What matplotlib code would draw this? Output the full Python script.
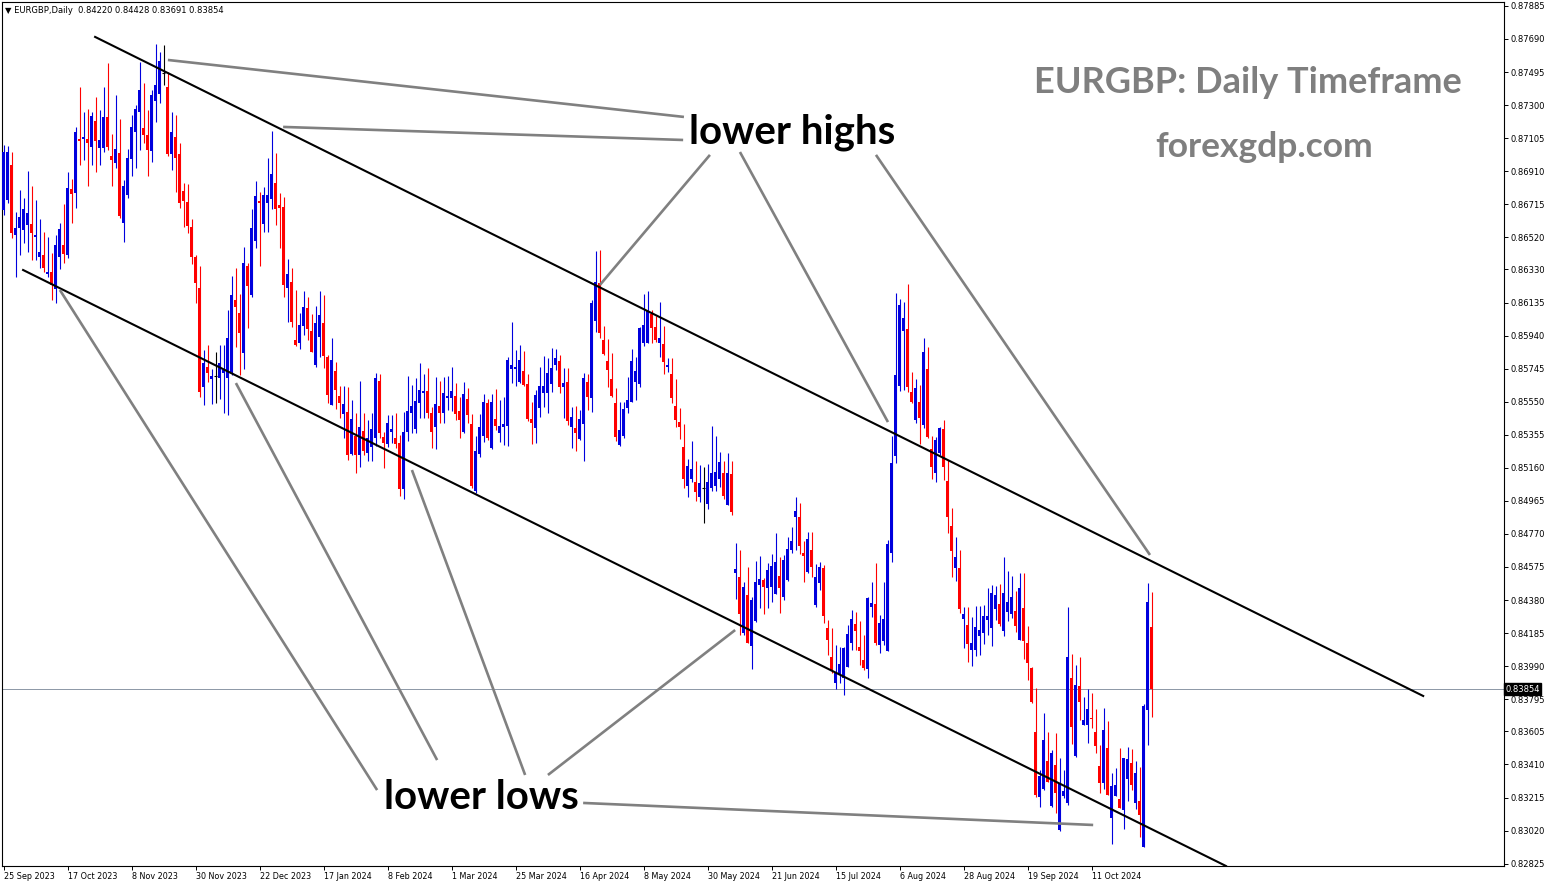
import numpy as np
import matplotlib.pyplot as plt
from matplotlib.transforms import blended_transform_factory

# EURGBP daily candles, 25 Sep 2023 .. 1 Nov 2024
opens = [
    0.86681, 0.86740, 0.86946, 0.86533, 0.86575, 0.86563, 0.86592, 0.86598, 0.86522, 0.86404,
    0.86415, 0.86303, 0.86315, 0.86215, 0.86404, 0.86474, 0.86415, 0.86805, 0.86781, 0.87100,
    0.87100, 0.87100, 0.87053, 0.87206, 0.87047, 0.87047, 0.87230, 0.87000, 0.86958, 0.87017,
    0.86604, 0.86769, 0.86982, 0.87141, 0.87259, 0.87165, 0.87123, 0.87029, 0.87324, 0.87365,
    0.87489, 0.87407, 0.87011, 0.87112, 0.87011, 0.86793, 0.86728, 0.86581, 0.86404, 0.86221,
    0.85637, 0.85755, 0.85684, 0.85702, 0.85690, 0.85719, 0.85690, 0.85725, 0.86150, 0.86073,
    0.85837, 0.86351, 0.86179, 0.86498, 0.86734, 0.86598, 0.86722, 0.86746, 0.86840, 0.86710,
    0.86699, 0.86221, 0.86256, 0.85914, 0.85896, 0.85997, 0.86103, 0.85967, 0.85766, 0.85932,
    0.86014, 0.85814, 0.85530, 0.85731, 0.85584, 0.85477, 0.85489, 0.85241, 0.85348, 0.85235,
    0.85377, 0.85247, 0.85283, 0.85336, 0.85672, 0.85342, 0.85300, 0.85371, 0.85336, 0.85306,
    0.85035, 0.85371, 0.85483, 0.85389, 0.85542, 0.85601, 0.85613, 0.85483, 0.85401, 0.85525,
    0.85483, 0.85572, 0.85572, 0.85584, 0.85495, 0.85371, 0.85566, 0.85418, 0.85023, 0.85241,
    0.85348, 0.85542, 0.85277, 0.85448, 0.85365, 0.85401, 0.85407, 0.85743, 0.85743, 0.85666,
    0.85731, 0.85654, 0.85448, 0.85395, 0.85513, 0.85601, 0.85601, 0.85654, 0.85766, 0.85790,
    0.85637, 0.85666, 0.85401, 0.85395, 0.85330, 0.85418, 0.85666, 0.85572, 0.86026, 0.86250,
    0.85914, 0.85790, 0.85684, 0.85542, 0.85294, 0.85348, 0.85513, 0.85548, 0.85666, 0.85654,
    0.85896, 0.85896, 0.86067, 0.85991, 0.85896, 0.85890, 0.85755, 0.85713, 0.85525, 0.85430,
    0.85283, 0.85053, 0.85094, 0.85076, 0.84988, 0.85041, 0.84946, 0.85041, 0.85053, 0.85094,
    0.85129, 0.84940, 0.85123, 0.84539, 0.84516, 0.84185, 0.84409, 0.84109, 0.84256, 0.84468,
    0.84498, 0.84451, 0.84457, 0.84415, 0.84522, 0.84398, 0.84498, 0.84675, 0.84870, 0.84870,
    0.84657, 0.84545, 0.84675, 0.84350, 0.84480, 0.84569, 0.84215, 0.84044, 0.83890, 0.83943,
    0.83920, 0.83985, 0.84126, 0.84238, 0.84103, 0.84026, 0.83973, 0.84339, 0.84356, 0.84114,
    0.84138, 0.84079, 0.84657, 0.85230, 0.85643, 0.85967, 0.85979, 0.85607, 0.85442, 0.85548,
    0.85412, 0.85743, 0.85271, 0.85129, 0.85247, 0.85389, 0.85082, 0.84817, 0.84569, 0.84569,
    0.84268, 0.84232, 0.84085, 0.84085, 0.84168, 0.84185, 0.84262, 0.84215, 0.84327, 0.84356,
    0.84197, 0.84309, 0.84297, 0.84315, 0.84144, 0.84333, 0.84126, 0.83979, 0.83601, 0.83218,
    0.83265, 0.83430, 0.83165, 0.83406, 0.83023, 0.83224, 0.83182, 0.83920, 0.83460, 0.83873,
    0.83642, 0.83642, 0.83684, 0.83601, 0.83401, 0.83300, 0.83507, 0.83094, 0.83224, 0.83206,
    0.83141, 0.83324, 0.83418, 0.83182, 0.83194, 0.82923, 0.83731, 0.84220,
]
highs = [
    0.87064, 0.87059, 0.87023, 0.86669, 0.86799, 0.86752, 0.86911, 0.86823, 0.86740, 0.86628,
    0.86551, 0.86522, 0.86427, 0.86533, 0.86604, 0.86716, 0.86905, 0.86864, 0.87171, 0.87407,
    0.87259, 0.87277, 0.87259, 0.87348, 0.87271, 0.87407, 0.87548, 0.87129, 0.87359, 0.87218,
    0.86858, 0.87041, 0.87241, 0.87300, 0.87554, 0.87430, 0.87271, 0.87389, 0.87660, 0.87613,
    0.87654, 0.87495, 0.87259, 0.87241, 0.87076, 0.86840, 0.86834, 0.86628, 0.86415, 0.86351,
    0.85855, 0.85884, 0.85743, 0.85843, 0.85884, 0.85884, 0.86091, 0.86292, 0.86339, 0.86185,
    0.86463, 0.86368, 0.86687, 0.86852, 0.86787, 0.86817, 0.86988, 0.87147, 0.87017, 0.86781,
    0.86758, 0.86392, 0.86339, 0.86209, 0.86073, 0.86203, 0.86168, 0.86067, 0.86115, 0.86203,
    0.86179, 0.85825, 0.85926, 0.85784, 0.85643, 0.85643, 0.85637, 0.85560, 0.85483, 0.85672,
    0.85483, 0.85442, 0.85483, 0.85719, 0.85713, 0.85371, 0.85471, 0.85471, 0.85483, 0.85353,
    0.85489, 0.85702, 0.85648, 0.85690, 0.85778, 0.85713, 0.85749, 0.85519, 0.85696, 0.85672,
    0.85696, 0.85702, 0.85755, 0.85660, 0.85578, 0.85666, 0.85631, 0.85477, 0.85348, 0.85477,
    0.85595, 0.85566, 0.85595, 0.85625, 0.85560, 0.85578, 0.85814, 0.86020, 0.85855, 0.85884,
    0.85849, 0.85713, 0.85548, 0.85619, 0.85755, 0.85820, 0.85808, 0.85867, 0.85861, 0.85825,
    0.85749, 0.85749, 0.85519, 0.85525, 0.85501, 0.85719, 0.85713, 0.86150, 0.86439, 0.86445,
    0.85997, 0.85920, 0.85837, 0.85631, 0.85548, 0.85548, 0.85696, 0.85861, 0.85814, 0.85991,
    0.86185, 0.86203, 0.86091, 0.86056, 0.86138, 0.85997, 0.85808, 0.85808, 0.85684, 0.85513,
    0.85418, 0.85212, 0.85318, 0.85200, 0.85176, 0.85165, 0.85182, 0.85407, 0.85348, 0.85253,
    0.85200, 0.85247, 0.85200, 0.84716, 0.84675, 0.84486, 0.84575, 0.84398, 0.84610, 0.84640,
    0.84510, 0.84598, 0.84651, 0.84775, 0.84634, 0.84645, 0.84752, 0.84811, 0.84988, 0.84952,
    0.84728, 0.84781, 0.84781, 0.84592, 0.84604, 0.84586, 0.84262, 0.84215, 0.84114, 0.84103,
    0.84103, 0.84232, 0.84321, 0.84309, 0.84256, 0.84173, 0.84398, 0.84486, 0.84598, 0.84291,
    0.84486, 0.84734, 0.85348, 0.86191, 0.86156, 0.86138, 0.86244, 0.85725, 0.85684, 0.85648,
    0.85926, 0.85873, 0.85348, 0.85342, 0.85401, 0.85442, 0.85206, 0.84923, 0.84752, 0.84675,
    0.84339, 0.84339, 0.84280, 0.84345, 0.84345, 0.84350, 0.84451, 0.84468, 0.84463, 0.84474,
    0.84634, 0.84551, 0.84522, 0.84433, 0.84539, 0.84539, 0.84227, 0.83985, 0.83861, 0.83377,
    0.83713, 0.83601, 0.83495, 0.83595, 0.83448, 0.83377, 0.84339, 0.84061, 0.83996, 0.84044,
    0.83808, 0.83855, 0.83831, 0.83737, 0.83524, 0.83743, 0.83666, 0.83359, 0.83389, 0.83507,
    0.83448, 0.83513, 0.83501, 0.83430, 0.83395, 0.83766, 0.84480, 0.84428,
]
lows = [
    0.86651, 0.86722, 0.86516, 0.86286, 0.86415, 0.86486, 0.86433, 0.86386, 0.86386, 0.86339,
    0.86315, 0.86286, 0.86150, 0.86132, 0.86333, 0.86368, 0.86398, 0.86604, 0.86693, 0.86946,
    0.86976, 0.86823, 0.86946, 0.86905, 0.86946, 0.87023, 0.87035, 0.86823, 0.86929, 0.86634,
    0.86492, 0.86752, 0.86882, 0.86929, 0.87035, 0.87076, 0.86882, 0.86964, 0.87200, 0.87312,
    0.87418, 0.87000, 0.86917, 0.86787, 0.86693, 0.86581, 0.86545, 0.86362, 0.86132, 0.85578,
    0.85530, 0.85666, 0.85536, 0.85542, 0.85566, 0.85483, 0.85471, 0.85707, 0.85873, 0.85707,
    0.85743, 0.85985, 0.86168, 0.86457, 0.86351, 0.86551, 0.86551, 0.86687, 0.86592, 0.86457,
    0.86168, 0.86020, 0.85991, 0.85879, 0.85861, 0.85943, 0.85914, 0.85843, 0.85755, 0.85814,
    0.85749, 0.85542, 0.85530, 0.85507, 0.85454, 0.85336, 0.85206, 0.85235, 0.85129, 0.85165,
    0.85235, 0.85200, 0.85200, 0.85289, 0.85336, 0.85159, 0.85283, 0.85306, 0.85277, 0.84994,
    0.84976, 0.85318, 0.85365, 0.85365, 0.85454, 0.85454, 0.85454, 0.85277, 0.85271, 0.85424,
    0.85424, 0.85501, 0.85495, 0.85442, 0.85336, 0.85365, 0.85424, 0.85041, 0.85011, 0.85224,
    0.85312, 0.85324, 0.85271, 0.85383, 0.85312, 0.85294, 0.85289, 0.85660, 0.85643, 0.85660,
    0.85643, 0.85436, 0.85300, 0.85306, 0.85460, 0.85519, 0.85483, 0.85607, 0.85737, 0.85601,
    0.85454, 0.85412, 0.85277, 0.85259, 0.85324, 0.85200, 0.85501, 0.85489, 0.85961, 0.85926,
    0.85825, 0.85637, 0.85578, 0.85318, 0.85289, 0.85336, 0.85483, 0.85548, 0.85560, 0.85637,
    0.85879, 0.85896, 0.85896, 0.85902, 0.85814, 0.85713, 0.85725, 0.85542, 0.85401, 0.85330,
    0.85041, 0.84988, 0.85076, 0.84964, 0.84958, 0.84834, 0.84917, 0.85023, 0.85023, 0.85047,
    0.84976, 0.84940, 0.84881, 0.84386, 0.84173, 0.84173, 0.84126, 0.83973, 0.84250, 0.84333,
    0.84297, 0.84333, 0.84368, 0.84415, 0.84303, 0.84380, 0.84492, 0.84657, 0.84675, 0.84651,
    0.84486, 0.84539, 0.84516, 0.84339, 0.84439, 0.84244, 0.84055, 0.83949, 0.83855, 0.83890,
    0.83819, 0.83985, 0.84085, 0.84085, 0.83996, 0.83967, 0.83920, 0.84280, 0.84114, 0.84067,
    0.84114, 0.84079, 0.84604, 0.85188, 0.85613, 0.85619, 0.85607, 0.85542, 0.85424, 0.85300,
    0.85395, 0.85336, 0.85094, 0.85076, 0.85235, 0.85088, 0.84775, 0.84516, 0.84492, 0.84303,
    0.84097, 0.84014, 0.83991, 0.84050, 0.84055, 0.84120, 0.84173, 0.84109, 0.84262, 0.84227,
    0.84168, 0.84256, 0.84274, 0.84191, 0.84144, 0.84032, 0.83908, 0.83772, 0.83218, 0.83159,
    0.83259, 0.83306, 0.83159, 0.83123, 0.83017, 0.83212, 0.83170, 0.83530, 0.83454, 0.83672,
    0.83642, 0.83536, 0.83625, 0.83477, 0.83241, 0.83265, 0.83229, 0.82940, 0.83224, 0.83153,
    0.83029, 0.83194, 0.83259, 0.83147, 0.82982, 0.82923, 0.83524, 0.83691,
]
closes = [
    0.87023, 0.87023, 0.86545, 0.86575, 0.86640, 0.86687, 0.86663, 0.86545, 0.86533, 0.86433,
    0.86339, 0.86315, 0.86238, 0.86474, 0.86569, 0.86421, 0.86811, 0.86775, 0.87141, 0.87088,
    0.87112, 0.87076, 0.87236, 0.87088, 0.87094, 0.87230, 0.87053, 0.86976, 0.87041, 0.86646,
    0.86823, 0.86988, 0.87171, 0.87277, 0.87389, 0.87123, 0.87035, 0.87359, 0.87418, 0.87560,
    0.87489, 0.87011, 0.87141, 0.86988, 0.86722, 0.86734, 0.86587, 0.86404, 0.86250, 0.85607,
    0.85778, 0.85719, 0.85702, 0.85702, 0.85778, 0.85737, 0.85926, 0.86179, 0.86109, 0.85955,
    0.86368, 0.86233, 0.86575, 0.86764, 0.86722, 0.86769, 0.86769, 0.86893, 0.86687, 0.86693,
    0.86238, 0.86303, 0.86020, 0.85884, 0.86002, 0.86109, 0.85979, 0.85843, 0.86014, 0.86061,
    0.85820, 0.85589, 0.85796, 0.85619, 0.85542, 0.85536, 0.85235, 0.85448, 0.85235, 0.85401,
    0.85259, 0.85336, 0.85389, 0.85690, 0.85365, 0.85306, 0.85424, 0.85389, 0.85300, 0.85035,
    0.85371, 0.85495, 0.85525, 0.85554, 0.85619, 0.85613, 0.85483, 0.85371, 0.85536, 0.85483,
    0.85601, 0.85584, 0.85613, 0.85477, 0.85442, 0.85595, 0.85471, 0.85053, 0.85259, 0.85401,
    0.85548, 0.85336, 0.85548, 0.85407, 0.85407, 0.85418, 0.85796, 0.85766, 0.85755, 0.85796,
    0.85648, 0.85448, 0.85424, 0.85589, 0.85643, 0.85643, 0.85719, 0.85749, 0.85808, 0.85637,
    0.85660, 0.85436, 0.85460, 0.85365, 0.85448, 0.85690, 0.85578, 0.86132, 0.86256, 0.85955,
    0.85831, 0.85737, 0.85584, 0.85342, 0.85383, 0.85507, 0.85560, 0.85790, 0.85731, 0.85985,
    0.86002, 0.86091, 0.85985, 0.85914, 0.85926, 0.85784, 0.85766, 0.85572, 0.85442, 0.85401,
    0.85094, 0.85171, 0.85153, 0.85017, 0.85070, 0.85041, 0.85076, 0.85129, 0.85135, 0.85194,
    0.84994, 0.85129, 0.84899, 0.84563, 0.84297, 0.84457, 0.84126, 0.84380, 0.84486, 0.84504,
    0.84457, 0.84557, 0.84581, 0.84604, 0.84451, 0.84616, 0.84681, 0.84728, 0.84905, 0.84699,
    0.84640, 0.84740, 0.84575, 0.84516, 0.84575, 0.84286, 0.84144, 0.83967, 0.83955, 0.84002,
    0.84097, 0.84179, 0.84268, 0.84197, 0.84079, 0.83979, 0.84392, 0.84362, 0.84126, 0.84244,
    0.84268, 0.84710, 0.85188, 0.85707, 0.86120, 0.86044, 0.85637, 0.85548, 0.85631, 0.85454,
    0.85843, 0.85342, 0.85165, 0.85324, 0.85395, 0.85165, 0.84870, 0.84669, 0.84634, 0.84327,
    0.84297, 0.84120, 0.84126, 0.84221, 0.84203, 0.84286, 0.84286, 0.84421, 0.84409, 0.84238,
    0.84421, 0.84368, 0.84398, 0.84227, 0.84451, 0.84138, 0.84008, 0.83778, 0.83229, 0.83342,
    0.83554, 0.83306, 0.83477, 0.83241, 0.83300, 0.83253, 0.84044, 0.83631, 0.83878, 0.83778,
    0.83672, 0.83737, 0.83678, 0.83519, 0.83300, 0.83613, 0.83229, 0.83283, 0.83288, 0.83153,
    0.83448, 0.83442, 0.83288, 0.83359, 0.83111, 0.83755, 0.84368, 0.83854,
]

date_labels = ['25 Sep 2023', '17 Oct 2023', '8 Nov 2023', '30 Nov 2023', '22 Dec 2023',
               '17 Jan 2024', '8 Feb 2024', '1 Mar 2024', '25 Mar 2024', '16 Apr 2024',
               '8 May 2024', '30 May 2024', '21 Jun 2024', '15 Jul 2024', '6 Aug 2024',
               '28 Aug 2024', '19 Sep 2024', '11 Oct 2024']
bars_per_label = 16
price_ticks = [0.87885, 0.87690, 0.87495, 0.87300, 0.87105, 0.86910, 0.86715, 0.86520,
               0.86330, 0.86135, 0.85940, 0.85745, 0.85550, 0.85355, 0.85160, 0.84965,
               0.84770, 0.84575, 0.84380, 0.84185, 0.83990, 0.83795, 0.83605, 0.83410,
               0.83215, 0.83020, 0.82825]

# channel lines (bar index, price)
upper_channel = [(22.9, 0.87702), (354.9, 0.83814)]
lower_channel = [(4.9, 0.86327), (305.6, 0.82811)]

# gray pointer lines (bar index, price)
pointers = [
    [(41.1, 0.87566), (170.1, 0.87230)],
    [(69.9, 0.87171), (169.9, 0.87094)],
    [(149.1, 0.86239), (176.6, 0.87006)],
    [(184.1, 0.87023), (221.1, 0.85430)],
    [(218.1, 0.87006), (286.6, 0.84646)],
    [(14.1, 0.86209), (93.4, 0.83259)],
    [(58.1, 0.85660), (108.4, 0.83436)],
    [(102.1, 0.85147), (130.4, 0.83348)],
    [(136.1, 0.83348), (182.9, 0.84203)],
    [(144.9, 0.83183), (272.4, 0.83053)],
]

BLUE = '#0000dd'
RED = '#ff0000'
GRAY = '#808080'

o = np.array(opens)
h = np.array(highs)
l = np.array(lows)
c = np.array(closes)
x = np.arange(len(o))

fig = plt.figure(figsize=(15.49, 8.88), dpi=100)
ax = fig.add_axes([2 / 1549, 22 / 888, 1502 / 1549, 864 / 888])
ax.set_xlim(-0.375, 375.1)
ax.set_ylim(0.82811, 0.87908)

up = c > o
down = c < o
flat = c == o
wick_col = np.where(up, BLUE, np.where(down, RED, 'black'))
ax.vlines(x, l, h, colors=wick_col, linewidth=0.8, zorder=2)

body_bottom = np.minimum(o, c)
body_h = np.maximum(np.abs(c - o), 0.00006)
body_col = np.where(up, BLUE, RED)
mask = ~flat
ax.bar(x[mask], body_h[mask], bottom=body_bottom[mask], width=0.75,
       color=body_col[mask], linewidth=0, zorder=3)
ax.hlines(o[flat], x[flat] - 0.38, x[flat] + 0.38, colors='black', linewidth=0.8, zorder=3)

# channel
for line in (upper_channel, lower_channel):
    (x0, y0), (x1, y1) = line
    ax.plot([x0, x1], [y0, y1], color='black', lw=1.5, zorder=4)

for (x0, y0), (x1, y1) in pointers:
    ax.plot([x0, x1], [y0, y1], color=GRAY, lw=1.9, solid_capstyle='butt', zorder=4)

# current price line
ax.axhline(c[-1], color='#8c97a6', lw=0.7, zorder=1)

ax.text(197.1, 0.87075, 'lower highs', fontsize=29, fontfamily='Lato', fontweight='bold',
        ha='center', va='baseline', color='black', zorder=5)
ax.text(119.4, 0.83150, 'lower lows', fontsize=29, fontfamily='Lato', fontweight='bold',
        ha='center', va='baseline', color='black', zorder=5)
ax.text(311.1, 0.87370, 'EURGBP: Daily Timeframe', fontsize=26, fontfamily='Lato',
        fontweight='bold', ha='center', va='baseline', color='#7f7f7f', zorder=5)
ax.text(315.1, 0.86996, 'forexgdp.com', fontsize=25.5, fontfamily='Lato',
        fontweight='bold', ha='center', va='baseline', color='#7f7f7f', zorder=5)

header = '\u25bc EURGBP,Daily  {:.5f} {:.5f} {:.5f} {:.5f}'.format(o[-1], h[-1], l[-1], c[-1])
ax.text(0.002, 0.9905, header, transform=ax.transAxes, fontsize=6, va='center', ha='left')

# axes styling like the terminal
for s in ax.spines.values():
    s.set_linewidth(0.8)
    s.set_color('black')

ax.yaxis.tick_right()
ax.set_yticks(price_ticks)
ax.set_yticklabels(['{:.5f}'.format(v) for v in price_ticks])
ax.tick_params(axis='y', direction='out', length=3, width=0.7, pad=2, labelsize=6)

xt = np.arange(len(date_labels)) * bars_per_label
ax.set_xticks(xt)
ax.set_xticklabels(date_labels, ha='left')
ax.tick_params(axis='x', direction='out', length=3, width=0.7, pad=1.5, labelsize=5.8)

# last price tag on the scale
tr = blended_transform_factory(ax.transAxes, ax.transData)
ax.text(1.001, c[-1], '{:.5f}'.format(c[-1]), transform=tr, fontsize=6, color='white',
        ha='left', va='center', zorder=10, clip_on=False,
        bbox=dict(boxstyle='square,pad=0.15', fc='black', ec='black'))

fig.savefig('out.png', dpi=100)
